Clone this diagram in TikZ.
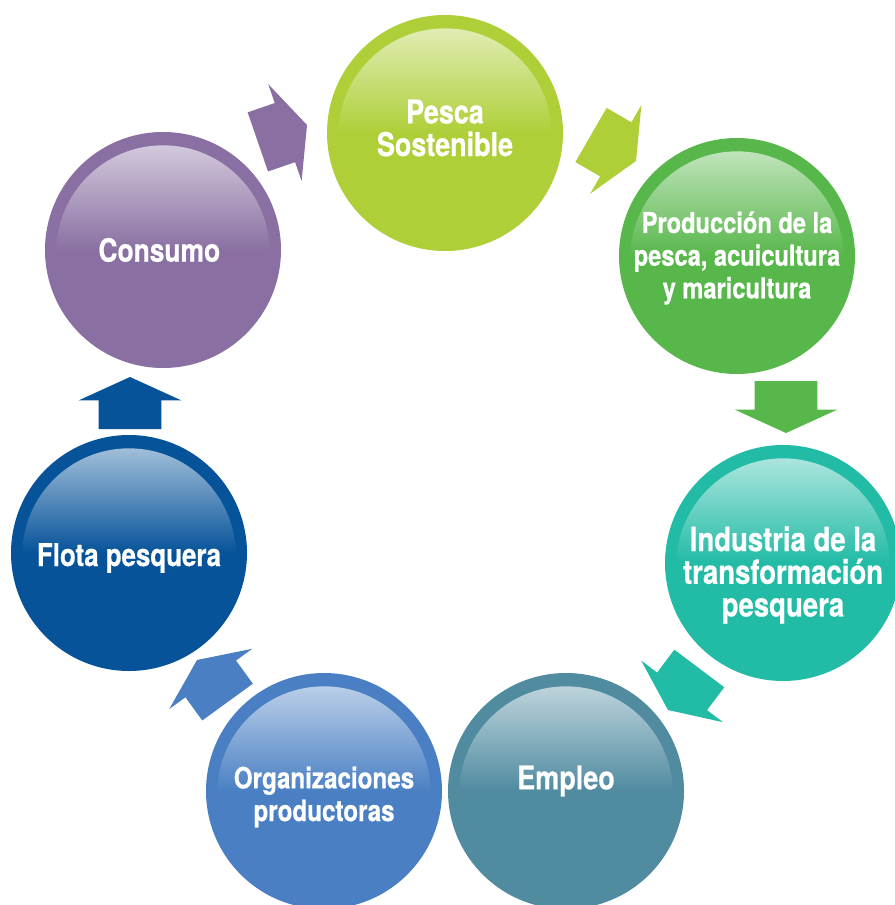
\documentclass[tikz,border=0pt]{standalone}
\usepackage{fontspec}
\setmainfont{TeX Gyre Heros}[FakeStretch=0.825, BoldFeatures={FakeBold=0.6}]
\usepackage{tikz}
\usetikzlibrary{shapes.arrows}
\definecolor{pescaCol}{HTML}{AECF38}
\definecolor{produccionCol}{HTML}{58B74B}
\definecolor{industriaCol}{HTML}{22BBA6}
\definecolor{empleoCol}{HTML}{508BA0}
\definecolor{organizCol}{HTML}{4A80C3}
\definecolor{flotaCol}{HTML}{06539A}
\definecolor{consumoCol}{HTML}{8A70A2}
\tikzset{
  bubble/.style={circle, minimum size=177pt, inner sep=0pt, fill=#1,
    path picture={\shade[top color=#1!30!white, bottom color=#1, middle color=#1]
      ([yshift=-1.5pt]path picture bounding box.center) circle (80pt);}},
  bubtext/.style={text=white, align=center, inner sep=0pt,
    font=\bfseries\fontsize{#1}{24.5}\selectfont},
  flecha/.style={single arrow, fill=#1, minimum height=39pt, inner xsep=0pt,
    inner ysep=23.25pt, single arrow head extend=15pt, single arrow tip angle=131,
    outer sep=0pt, anchor=tip}
}
\begin{document}
\begin{tikzpicture}[x=0.75pt, y=-0.75pt]
  \useasboundingbox (0,0) rectangle (894,905);
  % circles of the cycle
  \foreach \name/\col/\x/\y/\fs/\dy/\txt in {
    pesca/pescaCol/445/133/24.5/-5/{Pesca\\Sostenible},
    produccion/produccionCol/737/256/21.5/2/{Producción de la\\pesca, acuicultura\\y maricultura},
    industria/industriaCol/783/563/25/12/{Industria de la\\transformación\\pesquera},
    empleo/empleoCol/566/791/24.5/-10/{Empleo},
    organiz/organizCol/324/791/22/6/{Organizaciones\\productoras},
    flota/flotaCol/129/553/23.5/5/{Flota pesquera},
    consumo/consumoCol/163/250/24/0/{Consumo}
  }{
    \node[bubble=\col] (\name) at (\x,\y) {};
    \node[bubtext=\fs] (\name-txt) at (\x,{\y+\dy}) {\txt};
  }
  % block arrows
  \node[flecha=consumoCol, rotate=19] (f1) at (307,125) {};
  \node[flecha=pescaCol, rotate=-30] (f2) at (636,161) {};
  \node[flecha=produccionCol, rotate=-90] (f3) at (786,433) {};
  \node[flecha=industriaCol, rotate=-127] (f4) at (668,710) {};
  \node[flecha=organizCol, rotate=126] (f5) at (197,660) {};
  \node[flecha=flotaCol, rotate=90] (f6) at (130,377) {};
\end{tikzpicture}
\end{document}
